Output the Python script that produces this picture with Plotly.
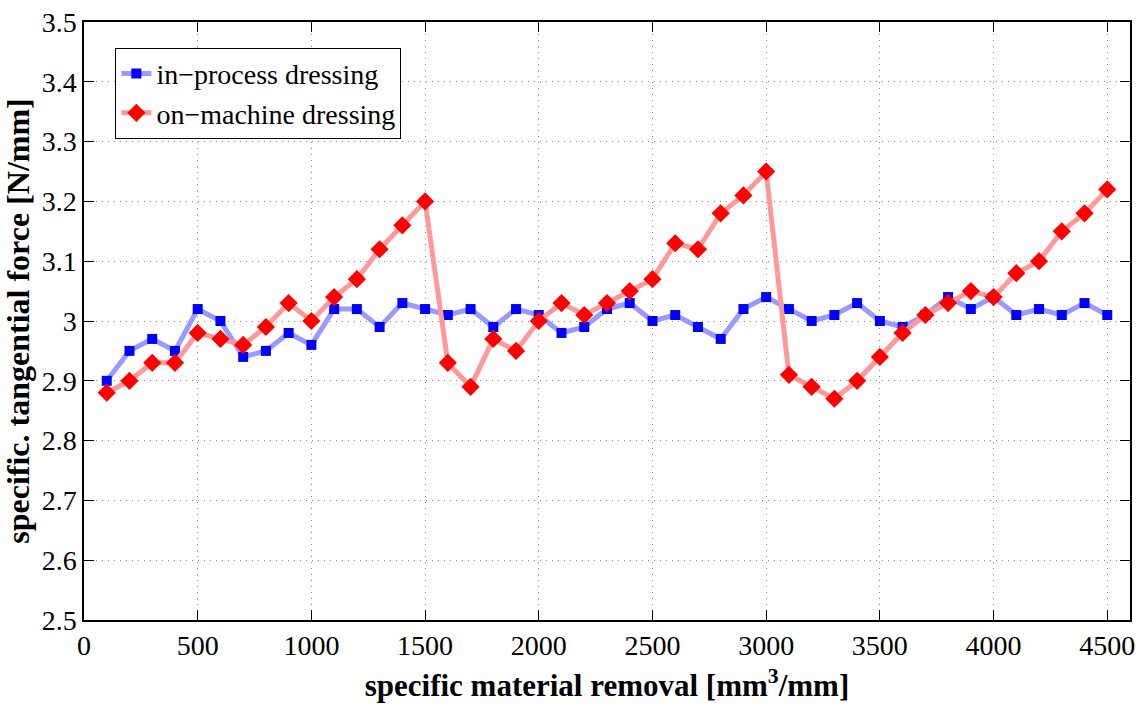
import plotly.graph_objects as go

# specific material removal [mm^3/mm]
removal = [100, 200, 300, 400, 500, 600, 700, 800, 900, 1000,
           1100, 1200, 1300, 1400, 1500, 1600, 1700, 1800, 1900, 2000,
           2100, 2200, 2300, 2400, 2500, 2600, 2700, 2800, 2900, 3000,
           3100, 3200, 3300, 3400, 3500, 3600, 3700, 3800, 3900, 4000,
           4100, 4200, 4300, 4400, 4500]

# specific tangential force [N/mm]
in_process = [2.90, 2.95, 2.97, 2.95, 3.02, 3.00, 2.94, 2.95, 2.98, 2.96,
              3.02, 3.02, 2.99, 3.03, 3.02, 3.01, 3.02, 2.99, 3.02, 3.01,
              2.98, 2.99, 3.02, 3.03, 3.00, 3.01, 2.99, 2.97, 3.02, 3.04,
              3.02, 3.00, 3.01, 3.03, 3.00, 2.99, 3.01, 3.04, 3.02, 3.04,
              3.01, 3.02, 3.01, 3.03, 3.01]

on_machine = [2.88, 2.90, 2.93, 2.93, 2.98, 2.97, 2.96, 2.99, 3.03, 3.00,
              3.04, 3.07, 3.12, 3.16, 3.20, 2.93, 2.89, 2.97, 2.95, 3.00,
              3.03, 3.01, 3.03, 3.05, 3.07, 3.13, 3.12, 3.18, 3.21, 3.25,
              2.91, 2.89, 2.87, 2.90, 2.94, 2.98, 3.01, 3.03, 3.05, 3.04,
              3.08, 3.10, 3.15, 3.18, 3.22]

x_ticks = [0, 500, 1000, 1500, 2000, 2500, 3000, 3500, 4000, 4500]
y_ticks = [2.5, 2.6, 2.7, 2.8, 2.9, 3.0, 3.1, 3.2, 3.3, 3.4, 3.5]
y_tick_text = ["2.5", "2.6", "2.7", "2.8", "2.9", "3", "3.1", "3.2", "3.3", "3.4", "3.5"]

FONT = "Liberation Serif"
TICK_FONT = dict(family=FONT, size=28, color="black")

fig = go.Figure()
fig.add_trace(go.Scatter(
    x=removal, y=in_process, mode="lines+markers", name="in\u2212process dressing",
    line=dict(color="#9999ff", width=5),
    marker=dict(symbol="square", size=10, color="#0000ff"),
))
fig.add_trace(go.Scatter(
    x=removal, y=on_machine, mode="lines+markers", name="on\u2212machine dressing",
    line=dict(color="#ff9999", width=5),
    marker=dict(symbol="diamond", size=14, color="#ff0000"),
))

axis_common = dict(
    showline=True, linecolor="black", linewidth=1.5, mirror="ticks",
    ticks="inside", ticklen=10, tickcolor="black", tickwidth=1,
    showgrid=True, gridcolor="#888888", griddash="1px,5px", gridwidth=1,
    zeroline=False, automargin=False,
)

fig.update_xaxes(
    range=[0, 4600], tickvals=x_ticks, **axis_common,
    title=dict(text="<b>specific material removal [mm<sup>3</sup>/mm]</b>",
               font=dict(family=FONT, size=31, color="black"), standoff=14),
)
fig.update_yaxes(
    range=[2.5, 3.5], tickvals=y_ticks, ticktext=y_tick_text, **axis_common,
    title=dict(text="<b>specific. tangential force [N/mm]</b>",
               font=dict(family=FONT, size=32, color="black"), standoff=2),
)
fig.update_xaxes(tickfont=TICK_FONT)
fig.update_yaxes(tickfont=TICK_FONT)

fig.update_layout(
    width=1142, height=704,
    margin=dict(l=84, r=12, t=22, b=84),
    plot_bgcolor="white", paper_bgcolor="white",
    font=dict(family=FONT, size=28, color="black"),
    legend=dict(
        x=0.03, y=0.957, xanchor="left", yanchor="top",
        bgcolor="white", bordercolor="black", borderwidth=1,
        font=dict(family=FONT, size=28, color="black"),
        tracegroupgap=0, itemwidth=30,
    ),
)

fig.write_html("out.html")
